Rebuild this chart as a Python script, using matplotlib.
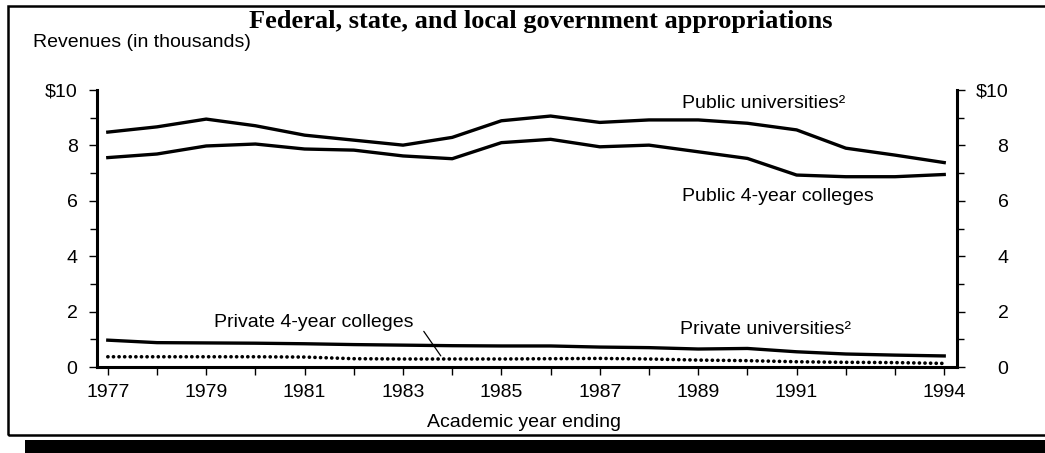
import matplotlib.pyplot as plt
from matplotlib.patches import Rectangle

plt.rcParams['font.family'] = ['Liberation Sans', 'DejaVu Sans']

# academic year ending
years = list(range(1977, 1995))
xtick_labels = ['1977', '', '1979', '', '1981', '', '1983', '', '1985', '', '1987', '',
                '1989', '', '1991', '', '', '1994']

# revenues per student, in thousands of dollars
public_univ = [8.48, 8.67, 8.95, 8.71, 8.37, 8.19, 8.01, 8.29, 8.89, 9.06,
               8.83, 8.92, 8.92, 8.80, 8.56, 7.90, 7.65, 7.38]
public_4yr = [7.56, 7.69, 7.98, 8.05, 7.87, 7.83, 7.62, 7.52, 8.10, 8.22,
              7.95, 8.01, 7.77, 7.53, 6.93, 6.87, 6.87, 6.95]
private_univ = [0.97, 0.88, 0.87, 0.86, 0.84, 0.81, 0.79, 0.77, 0.76, 0.76,
                0.72, 0.70, 0.65, 0.67, 0.55, 0.47, 0.43, 0.40]
private_4yr = [0.37, 0.37, 0.37, 0.37, 0.36, 0.30, 0.29, 0.29, 0.29, 0.30,
               0.31, 0.29, 0.25, 0.23, 0.19, 0.17, 0.16, 0.13]

ytick_vals = [0, 2, 4, 6, 8, 10]
ytick_labels = ['0', '2', '4', '6', '8', '$10']

fig = plt.figure(figsize=(10.45, 4.53), dpi=100)
ax = fig.add_axes([0.0928, 0.1898, 0.8230, 0.6115])
ax2 = ax.twinx()

# the four series
ax.plot(years, public_univ, color='black', lw=2.4)
ax.plot(years, public_4yr, color='black', lw=2.4)
ax.plot(years, private_univ, color='black', lw=2.4)
ax.plot(years, private_4yr, color='black', lw=2.6, linestyle=(0, (0.05, 1.5)),
        dash_capstyle='round')

ax.set_xlim(1976.78, 1994.26)
ax.set_ylim(0, 10)
ax2.set_ylim(0, 10)

ax.set_xticks(years)
ax.set_xticklabels(xtick_labels)
ax.set_yticks(ytick_vals)
ax.set_yticklabels(ytick_labels)
ax.set_yticks([1, 3, 5, 7, 9], minor=True)
ax2.set_yticks(ytick_vals)
ax2.set_yticklabels(ytick_labels)
ax2.set_yticks([1, 3, 5, 7, 9], minor=True)

ax.tick_params(axis='x', length=6, width=1, pad=6, labelsize=14)
ax.tick_params(axis='y', which='major', length=6, width=1, pad=8, labelsize=14)
ax.tick_params(axis='y', which='minor', length=5, width=1)
ax2.tick_params(axis='y', which='major', length=6, width=1, pad=31, labelsize=14)
ax2.tick_params(axis='y', which='minor', length=5, width=1)
for lab in ax2.get_yticklabels():
    lab.set_horizontalalignment('right')

for s in ['top', 'right']:
    ax.spines[s].set_visible(False)
for s in ['top', 'left', 'bottom']:
    ax2.spines[s].set_visible(False)
ax.spines['left'].set_linewidth(2.2)
ax.spines['bottom'].set_linewidth(2.2)
ax2.spines['right'].set_linewidth(2.2)

# series labels
ax.text(1988.67, 9.53, 'Public universities²', fontsize=14, va='center', ha='left')
ax.text(1988.67, 6.17, 'Public 4-year colleges', fontsize=14, va='center', ha='left')
ax.text(1988.62, 1.37, 'Private universities²', fontsize=14, va='center', ha='left')
ax.text(1979.16, 1.59, 'Private 4-year colleges', fontsize=14, va='center', ha='left')
ax.annotate('', xy=(1983.8, 0.32), xytext=(1983.39, 1.37),
            arrowprops=dict(arrowstyle='-', color='black', lw=0.9))

fig.text(0.517, 0.952, 'Federal, state, and local government appropriations',
         family='Liberation Serif', weight='bold', fontsize=19, ha='center', va='center')
fig.text(0.0316, 0.907, 'Revenues (in thousands)', fontsize=14, ha='left', va='center')
fig.text(0.501, 0.068, 'Academic year ending', fontsize=14, ha='center', va='center')

# frame with drop shadow
fig.patches.append(Rectangle((0.0077, 0.0397), 1.05, 0.947, transform=fig.transFigure,
                             fill=False, edgecolor='black', lw=1.8))
fig.patches.append(Rectangle((0.0239, 0.0), 1.0, 0.0287, transform=fig.transFigure,
                             facecolor='black', edgecolor='none'))

fig.savefig('out.png', dpi=100)
